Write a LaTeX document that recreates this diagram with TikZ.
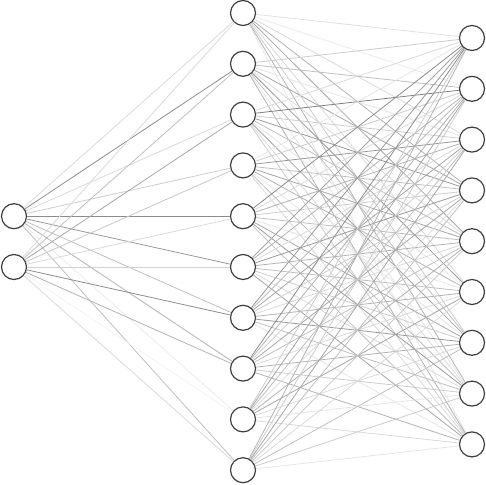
\documentclass[tikz,border=0pt]{standalone}
\usepackage{tikz}

\tikzset{
  neuron/.style={circle,draw=black!75,line width=1.2pt,fill=white,minimum size=25pt,inner sep=0pt},
  synapse/.style={line width=0.8pt}
}

\begin{document}
\begin{tikzpicture}[x=1pt,y=-1pt]
        \useasboundingbox (0,0) rectangle (486,484);
        % input layer
        \node[neuron] (in1) at (14,216.2) {};
        \node[neuron] (in2) at (14,267) {};
        % hidden layer
        \node[neuron] (h1) at (243,13) {};
        \node[neuron] (h2) at (243,63.8) {};
        \node[neuron] (h3) at (243,114.6) {};
        \node[neuron] (h4) at (243,165.4) {};
        \node[neuron] (h5) at (243,216.2) {};
        \node[neuron] (h6) at (243,267) {};
        \node[neuron] (h7) at (243,317.8) {};
        \node[neuron] (h8) at (243,368.6) {};
        \node[neuron] (h9) at (243,419.4) {};
        \node[neuron] (h10) at (243,470.2) {};
        % output layer
        \node[neuron] (out1) at (472,38) {};
        \node[neuron] (out2) at (472,88.8) {};
        \node[neuron] (out3) at (472,139.6) {};
        \node[neuron] (out4) at (472,190.4) {};
        \node[neuron] (out5) at (472,241.2) {};
        \node[neuron] (out6) at (472,292) {};
        \node[neuron] (out7) at (472,342.8) {};
        \node[neuron] (out8) at (472,393.6) {};
        \node[neuron] (out9) at (472,444.4) {};
        % weights input -> hidden (grey level)
        \foreach \i/\ws in {1/{15,45,15,20,45,40,25,30,8,25},
                            2/{15,25,35,22,15,18,45,30,5,15}}
          \foreach \w [count=\j] in \ws
            \draw[synapse,black!\w] (in\i) -- (h\j);
        % weights hidden -> output
        \foreach \i/\ws in {1/{12,8,15,30,35,15,20,30,10},
                            2/{20,25,10,35,15,40,25,10,30},
                            3/{15,50,20,40,25,10,35,15,20},
                            4/{10,20,40,25,35,30,10,25,15},
                            5/{45,15,30,20,25,10,35,40,25},
                            6/{35,30,15,40,30,25,20,15,35},
                            7/{40,25,35,20,15,30,40,25,10},
                            8/{45,30,20,35,25,15,30,20,30},
                            9/{20,35,25,15,30,35,15,10,15},
                            10/{30,20,35,25,20,15,25,20,10}}
          \foreach \w [count=\j] in \ws
            \draw[synapse,black!\w] (h\i) -- (out\j);
      \end{tikzpicture}
\end{document}
